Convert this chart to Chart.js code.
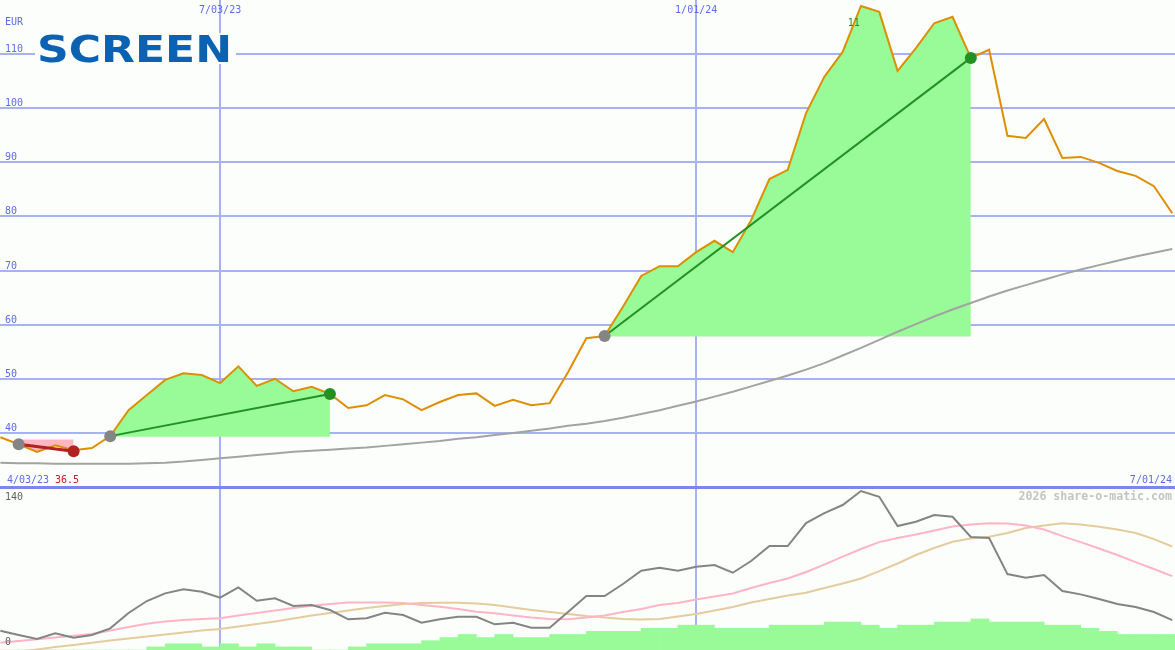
<!DOCTYPE html>
<html>
<head>
<meta charset="utf-8">
<script src="https://cdn.jsdelivr.net/npm/chart.js@4.4.1/dist/chart.umd.min.js"></script>
<style>
  html, body { margin: 0; padding: 0; background: #fcfefc; }
  #wrap { width: 1175px; height: 650px; }
</style>
</head>
<body>
<div id="wrap"><canvas id="shareChart" width="1175" height="650"></canvas></div>
<script>
// weekly data, week 0 = 3 Apr 2023
var weeks = [1, 2, 3, 4, 5, 6, 7, 8, 9, 10, 11, 12, 13, 14, 15, 16, 17, 18, 19, 20,
    21, 22, 23, 24, 25, 26, 27, 28, 29, 30, 31, 32, 33, 34, 35, 36, 37, 38, 39, 40,
    41, 42, 43, 44, 45, 46, 47, 48, 49, 50, 51, 52, 53, 54, 55, 56, 57, 58, 59, 60,
    61, 62, 63, 64, 65];

var price = [39.2, 37.9, 36.5, 37.7, 36.8, 37.2, 39.4, 44.2, 47.0, 49.8,
    51.0, 50.7, 49.2, 52.3, 48.7, 50.0, 47.7, 48.5, 47.2, 44.6,
    45.1, 47.0, 46.2, 44.2, 45.7, 47.0, 47.3, 45.0, 46.1, 45.1,
    45.5, 51.2, 57.5, 57.9, 63.3, 69.0, 70.8, 70.8, 73.4, 75.5,
    73.4, 79.3, 86.9, 88.6, 99.1, 105.8, 110.4, 118.9, 117.8, 106.9,
    111.1, 115.7, 116.9, 109.3, 110.8, 94.9, 94.5, 98.0, 90.8, 91.0,
    89.9, 88.4, 87.5, 85.6, 80.6];

var movingAvg = [34.5, 34.4, 34.4, 34.3, 34.3, 34.3, 34.3, 34.3, 34.4, 34.5,
    34.7, 35.0, 35.3, 35.6, 35.9, 36.2, 36.5, 36.7, 36.9, 37.1,
    37.3, 37.6, 37.9, 38.2, 38.5, 38.9, 39.2, 39.6, 40.0, 40.4,
    40.8, 41.3, 41.7, 42.2, 42.8, 43.5, 44.2, 45.0, 45.8, 46.7,
    47.6, 48.6, 49.6, 50.6, 51.7, 52.9, 54.3, 55.7, 57.2, 58.7,
    60.1, 61.5, 62.8, 64.0, 65.2, 66.3, 67.3, 68.3, 69.3, 70.2,
    71.0, 71.8, 72.6, 73.3, 74.0];

// lower panel indicators
var oscFast = [18.6, 14.4, 10.6, 16.1, 11.8, 14.5, 20.9, 35.7, 47.3, 54.7,
    58.6, 56.3, 50.5, 60.5, 47.6, 49.9, 42.5, 43.4, 38.6, 29.6,
    30.6, 36.0, 33.8, 26.3, 29.6, 32.1, 32.1, 24.8, 26.3, 21.5,
    21.5, 36.7, 52.1, 52.1, 63.7, 76.5, 79.4, 76.5, 80.4, 82.0,
    74.6, 85.9, 100.4, 100.4, 122.6, 132.2, 140.0, 153.5, 148.0, 119.7,
    123.8, 130.3, 128.7, 109.1, 108.1, 73.3, 69.8, 72.4, 56.9, 53.7,
    49.2, 44.4, 41.5, 36.7, 28.9];

var oscMid = [7.0, 8.7, 10.3, 12.0, 13.8, 15.4, 18.8, 22.2, 25.4, 27.5,
    28.9, 29.9, 30.6, 33.3, 35.7, 38.1, 40.5, 42.7, 44.4, 45.8,
    45.8, 45.8, 45.3, 43.4, 41.8, 39.6, 36.9, 35.4, 33.3, 31.3,
    29.9, 29.6, 31.3, 33.3, 36.7, 39.6, 43.4, 45.3, 48.7, 51.6,
    54.5, 59.8, 64.7, 69.0, 75.3, 82.5, 90.2, 97.5, 104.2, 108.1,
    111.5, 115.3, 119.2, 121.1, 122.3, 122.1, 120.2, 116.3, 110.0, 104.2,
    98.0, 91.7, 84.9, 78.2, 71.4];

var oscSlow = [-3.4, -1.5, 0.6, 2.9, 4.8, 7.0, 9.1, 11.1, 13.0, 14.9,
    16.9, 18.8, 20.2, 22.7, 25.1, 27.5, 30.4, 33.3, 35.7, 38.1,
    40.5, 42.5, 44.4, 45.3, 45.6, 45.6, 44.9, 43.4, 41.0, 38.6,
    36.7, 34.7, 32.8, 31.3, 29.9, 29.4, 29.9, 32.3, 34.7, 38.1,
    41.5, 45.8, 49.2, 52.6, 55.3, 59.8, 64.2, 69.0, 76.2, 83.5,
    91.7, 98.5, 104.5, 107.6, 109.4, 112.9, 117.8, 120.2, 122.3, 121.1,
    119.0, 116.3, 112.9, 107.1, 99.9];

var volume = [0, 0, 0, 0, 0, 0, 0, 0, 3, 6,
    6, 3, 6, 3, 6, 3, 3, 0, 0, 3,
    6, 6, 6, 9, 12, 15, 12, 15, 12, 12,
    15, 15, 18, 18, 18, 21, 21, 24, 24, 21,
    21, 21, 24, 24, 24, 27, 27, 24, 21, 24,
    24, 27, 27, 30, 27, 27, 27, 24, 24, 21,
    18, 15, 15, 15, 15];

// trades: entry week, exit week, prices
var tradeStart = [2, 7, 34];
var tradeEnd = [5, 19, 54];
var tradeEntry = [37.9, 39.4, 57.9];
var tradeExit = [36.6, 47.2, 109.3];
var tradeBase = [38.8, 39.3, 57.8];

var gridWeeks = [13, 39];
var gridDates = ['7/03/23', '1/01/24'];
var priceTicks = [30, 40, 50, 60, 70, 80, 90, 100, 110];
var oscTicks = [0, 140];
var startDate = '4/03/23';
var endDate = '7/01/24';
var lastExitLabel = '36.5';
var tradeCountLabel = '11';

var GREEN_FILL = '#98fb98';
var PINK_FILL = '#ffb6c1';
var GRID = '#a6b2f2';
var LABEL = '#5d6ce6';

function pts(xs, ys) {
    return xs.map(function(x, i) { return {x: x, y: ys[i]}; });
}

var datasets = [];

datasets.push({
    label: 'price', data: pts(weeks, price), yAxisID: 'y',
    borderColor: '#de8f00', borderWidth: 2, pointRadius: 0, order: 5
});
datasets.push({
    label: 'avg', data: pts(weeks, movingAvg), yAxisID: 'y',
    borderColor: '#a3a3a3', borderWidth: 2, pointRadius: 0, order: 7
});

// shaded trade areas
tradeStart.forEach(function(s, t) {
    var i0 = weeks.indexOf(s), i1 = weeks.indexOf(tradeEnd[t]);
    var win = tradeExit[t] > tradeEntry[t];
    datasets.push({
        label: 'area' + t,
        data: pts(weeks.slice(i0, i1 + 1), price.slice(i0, i1 + 1)),
        yAxisID: 'y', borderWidth: 0, pointRadius: 0,
        backgroundColor: win ? GREEN_FILL : PINK_FILL,
        fill: {value: tradeBase[t]}, order: 9
    });
    datasets.push({
        label: 'trade' + t,
        data: [{x: s, y: tradeEntry[t]}, {x: tradeEnd[t], y: tradeExit[t]}],
        yAxisID: 'y', borderColor: win ? '#229122' : '#b22222',
        borderWidth: win ? 2 : 3, pointRadius: 0, order: 3
    });
    datasets.push({
        label: 'dots' + t,
        data: [{x: s, y: tradeEntry[t]}, {x: tradeEnd[t], y: tradeExit[t]}],
        yAxisID: 'y', showLine: false, pointRadius: 6, pointBorderWidth: 0,
        pointBackgroundColor: ['#858585', win ? '#229122' : '#b22222'], order: 1
    });
});

datasets.push({
    label: 'fast', data: pts(weeks, oscFast), yAxisID: 'y2',
    borderColor: '#848484', borderWidth: 2, pointRadius: 0, order: 6
});
datasets.push({
    label: 'mid', data: pts(weeks, oscMid), yAxisID: 'y2',
    borderColor: '#ffb4c8', borderWidth: 2, pointRadius: 0, order: 6
});
datasets.push({
    label: 'slow', data: pts(weeks, oscSlow), yAxisID: 'y2',
    borderColor: '#e4cc9e', borderWidth: 2, pointRadius: 0, order: 6
});
datasets.push({
    type: 'bar', label: 'volume',
    data: weeks.map(function(w, i) { return {x: w + 0.5, y: volume[i]}; }),
    yAxisID: 'y2', backgroundColor: GREEN_FILL, borderWidth: 0,
    barPercentage: 1, categoryPercentage: 1, order: 9
});

var textPlugin = {
    id: 'textPlugin',
    beforeDatasetsDraw: function(chart) {
        var ctx = chart.ctx;
        ctx.save();
        ctx.fillStyle = '#fcfefc';
        ctx.fillRect(35, 33, 201, 31);
        ctx.font = 'bold 37px "DejaVu Sans"';
        var w = ctx.measureText('SCREEN').width;
        ctx.translate(37, 62);
        ctx.scale(195 / w, 1);
        ctx.fillStyle = '#0b62b2';
        ctx.textBaseline = 'alphabetic';
        ctx.fillText('SCREEN', 0, 0);
        ctx.restore();
    },
    afterDraw: function(chart) {
        var ctx = chart.ctx;
        var xs = chart.scales.x, ys = chart.scales.y, y2 = chart.scales.y2;
        ctx.save();
        ctx.font = '10px "DejaVu Sans Mono"';
        ctx.textBaseline = 'alphabetic';
        ctx.fillStyle = LABEL;
        ctx.textAlign = 'left';
        ctx.fillText('EUR', 5, 25);
        priceTicks.forEach(function(v) {
            if (v === ys.min) return;
            ctx.fillText(String(v), 5, ys.getPixelForValue(v) - 2);
        });
        ctx.textAlign = 'center';
        gridWeeks.forEach(function(w, i) {
            ctx.fillText(gridDates[i], xs.getPixelForValue(w), 13);
        });
        ctx.textAlign = 'left';
        ctx.fillText(startDate, 7, ys.bottom - 4);
        ctx.fillStyle = '#b22222';
        ctx.fillText(lastExitLabel, 55, ys.bottom - 4);
        ctx.fillStyle = LABEL;
        ctx.textAlign = 'right';
        ctx.fillText(endDate, 1172, ys.bottom - 4);

        ctx.fillStyle = '#606060';
        ctx.textAlign = 'left';
        oscTicks.forEach(function(v) {
            ctx.fillText(String(v), 5, y2.getPixelForValue(v) - 5);
        });

        ctx.fillStyle = '#229122';
        ctx.textAlign = 'center';
        ctx.fillText(tradeCountLabel, xs.getPixelForValue(47.6), 26);

        ctx.font = 'bold 11.6px "DejaVu Sans Mono"';
        ctx.fillStyle = '#c4c4c4';
        ctx.textAlign = 'right';
        ctx.fillText('2026 share-o-matic.com', 1172, 500);
        ctx.restore();
    }
};

var chart = new Chart(document.getElementById('shareChart').getContext('2d'), {
    type: 'line',
    data: {datasets: datasets},
    options: {
        responsive: false,
        animation: false,
        devicePixelRatio: 1,
        layout: {padding: 0, autoPadding: false},
        plugins: {legend: {display: false}, tooltip: {enabled: false}},
        elements: {line: {tension: 0}},
        scales: {
            x: {
                type: 'linear', min: 0.98, max: 65.15, offset: false,
                afterBuildTicks: function(s) {
                    s.ticks = gridWeeks.map(function(v) { return {value: v}; });
                },
                ticks: {display: false},
                grid: {color: GRID, lineWidth: 2, drawTicks: false, offset: false},
                border: {display: false}
            },
            y2: {
                type: 'linear', position: 'left', stack: 'panels', stackWeight: 163,
                min: 0, max: 157.4,
                afterBuildTicks: function(s) {
                    s.ticks = oscTicks.map(function(v) { return {value: v}; });
                },
                ticks: {display: false},
                grid: {display: false, drawTicks: false},
                border: {display: false}
            },
            y: {
                type: 'linear', position: 'left', stack: 'panels', stackWeight: 487,
                min: 30, max: 120,
                afterBuildTicks: function(s) {
                    s.ticks = priceTicks.map(function(v) { return {value: v}; });
                },
                ticks: {display: false},
                grid: {
                    color: function(c) { return c.tick && c.tick.value === 30 ? '#7888ec' : GRID; },
                    lineWidth: function(c) { return c.tick && c.tick.value === 30 ? 3 : 2; },
                    drawTicks: false
                },
                border: {display: false}
            }
        }
    },
    plugins: [textPlugin]
});
</script>
</body>
</html>
